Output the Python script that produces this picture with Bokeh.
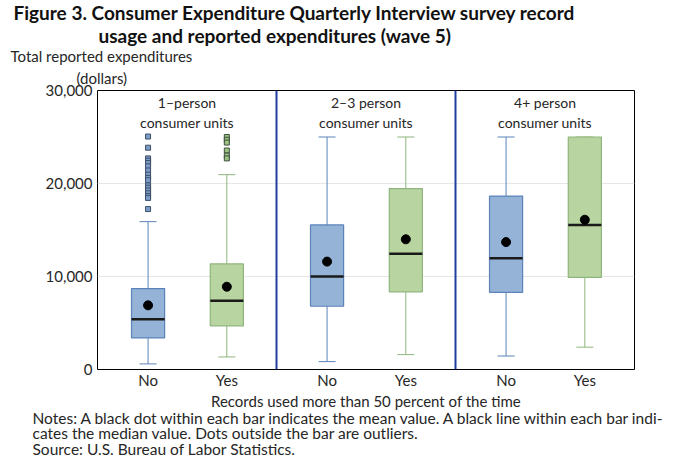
from bokeh.plotting import figure
from bokeh.models import Range1d, FixedTicker, NumeralTickFormatter, Span, Label, Title
from bokeh.embed import file_html
from bokeh.resources import INLINE

# ---------------- data ----------------
groups = ["1–person", "2–3 person", "4+ person"]
group_suffix = "consumer units"
categories = ["No", "Yes"]

# values per group: [No, Yes]
lower_whisker = [[600, 1350], [850, 1600], [1450, 2400]]
q1_values = [[3400, 4700], [6800, 8350], [8300, 9900]]
median_values = [[5400, 7400], [10000, 12450], [11950, 15550]]
mean_values = [[6900, 8900], [11600, 14000], [13700, 16100]]
q3_values = [[8700, 11350], [15550, 19450], [18650, 25000]]
upper_whisker = [[15900, 20950], [25000, 25000], [25000, 25000]]

outliers_1person_no = [25050, 23850, 22700, 22450, 22200, 21850, 21400, 20950,
                       20600, 20350, 19800, 19550, 19250, 18950, 18650, 18450, 17250]
outliers_1person_yes = [25000, 24700, 24400, 23550, 23000, 22700]

y_ticks = [0, 10000, 20000, 30000]

title_line1 = "Figure 3. Consumer Expenditure Quarterly Interview survey record"
title_line2 = "usage and reported expenditures (wave 5)"
y_label_1 = "Total reported expenditures"
y_label_2 = "(dollars)"
x_label = "Records used more than 50 percent of the time"
notes = ["Notes: A black dot within each bar indicates the mean value. A black line within each bar indi-",
         "cates the median value. Dots outside the bar are outliers.",
         "Source: U.S. Bureau of Labor Statistics."]

# ---------------- style ----------------
FONT = "Lato"
TXT = "#262626"
fill_col = {"No": "#95b3d7", "Yes": "#b8d5a1"}
line_col = {"No": "#5b83b9", "Yes": "#8fb57c"}
offsets = {"No": 0.565, "Yes": 1.445}
box_w = 0.37
cap_w = 0.19

p = figure(width=672, height=459, x_range=Range1d(0, 6), y_range=Range1d(0, 30000),
           title=None, output_backend="svg", toolbar_location=None,
           min_border_left=97, min_border_right=38, min_border_top=90, min_border_bottom=90)
p.background_fill_color = "white"
p.border_fill_color = "white"
p.outline_line_color = "black"
p.outline_line_width = 1

xs, tick_labels = [], {}
for gi, g in enumerate(groups):
    for ci, c in enumerate(categories):
        x = 2 * gi + offsets[c]
        xs.append(x)
        tick_labels[x] = c
        lo, a, med, mn, b, up = (lower_whisker[gi][ci], q1_values[gi][ci], median_values[gi][ci],
                                 mean_values[gi][ci], q3_values[gi][ci], upper_whisker[gi][ci])
        lc = line_col[c]
        p.segment(x0=[x, x], y0=[b, a], x1=[x, x], y1=[up, lo], line_color=lc, line_width=1)
        p.segment(x0=[x - cap_w / 2] * 2, y0=[up, lo], x1=[x + cap_w / 2] * 2, y1=[up, lo],
                  line_color=lc, line_width=1)
        p.vbar(x=[x], width=box_w, bottom=[a], top=[b], fill_color=fill_col[c],
               line_color=lc, line_width=1.2)
        p.segment(x0=[x - box_w / 2], y0=[med], x1=[x + box_w / 2], y1=[med],
                  line_color="#1a1a1a", line_width=2.5)
        p.scatter(x=[x], y=[mn], size=9, marker="circle", fill_color="black", line_color="black")

x_no1 = offsets["No"]
x_yes1 = offsets["Yes"]
p.scatter(x=[x_no1] * len(outliers_1person_no), y=outliers_1person_no, marker="square", size=5,
          fill_color="#7b9cc9", line_color="#3d4f66", line_width=1)
p.scatter(x=[x_yes1] * len(outliers_1person_yes), y=outliers_1person_yes, marker="square", size=5,
          fill_color="#9cc283", line_color="#3d4f3d", line_width=1)

# dividers
for gi in range(1, len(groups)):
    p.add_layout(Span(location=2 * gi, dimension="height", line_color="#1f3f9f", line_width=2))

# group labels (inside the frame, near the top)
for gi, g in enumerate(groups):
    for txt, yy in ((g, 28700), (group_suffix, 26550)):
        p.add_layout(Label(x=2 * gi + 1, y=yy, x_units="data", y_units="data", text=txt,
                           text_align="center", text_baseline="middle", text_font=FONT,
                           text_font_size="14px", text_color=TXT))

# axes
p.xgrid.visible = False
p.ygrid.ticker = FixedTicker(ticks=[10000, 20000])
p.ygrid.grid_line_color = "#e6e6e6"
p.ygrid.grid_line_width = 1

p.yaxis.ticker = FixedTicker(ticks=y_ticks)
p.yaxis.formatter = NumeralTickFormatter(format="0,0")
p.yaxis.axis_line_color = None
p.yaxis.major_tick_line_color = None
p.yaxis.minor_tick_line_color = None
p.yaxis.major_tick_out = 0
p.yaxis.major_tick_in = 0
p.yaxis.major_label_standoff = 5
p.yaxis.major_label_text_font = FONT
p.yaxis.major_label_text_font_size = "15px"
p.yaxis.major_label_text_color = TXT

p.xaxis.ticker = FixedTicker(ticks=xs)
p.xaxis.major_label_overrides = tick_labels
p.xaxis.axis_line_color = None
p.xaxis.major_tick_line_color = None
p.xaxis.minor_tick_line_color = None
p.xaxis.major_tick_out = 0
p.xaxis.major_tick_in = 0
p.xaxis.major_label_standoff = 1
p.xaxis.major_label_text_font = FONT
p.xaxis.major_label_text_font_size = "15px"
p.xaxis.major_label_text_color = TXT
p.xaxis.axis_label = x_label
p.xaxis.axis_label_standoff = 0
p.xaxis.axis_label_text_font = FONT
p.xaxis.axis_label_text_font_size = "15px"
p.xaxis.axis_label_text_font_style = "normal"
p.xaxis.axis_label_text_color = TXT


def title(text, offset, size, bold, standoff, valign, line_height=1.0):
    return Title(text=text, align="left", offset=offset, standoff=standoff, vertical_align=valign,
                 text_font=FONT, text_font_size=size, text_line_height=line_height,
                 text_font_style="bold" if bold else "normal",
                 text_color="#111111" if bold else TXT)


# above panels, nearest the frame first
p.add_layout(title(y_label_2, -21, "15px", False, 8, "bottom"), "above")
p.add_layout(title(y_label_1, -87, "15px", False, -5, "bottom"), "above")
p.add_layout(title(title_line2, 1, "19px", True, 1, "bottom"), "above")
p.add_layout(title(title_line1, -84, "19px", True, -4, "bottom"), "above")

# notes below the x axis
p.add_layout(title("\n".join(notes), -65, "15.5px", False, -8, "top", 0.87), "below")

open("out.html", "w").write(file_html(p, INLINE))
